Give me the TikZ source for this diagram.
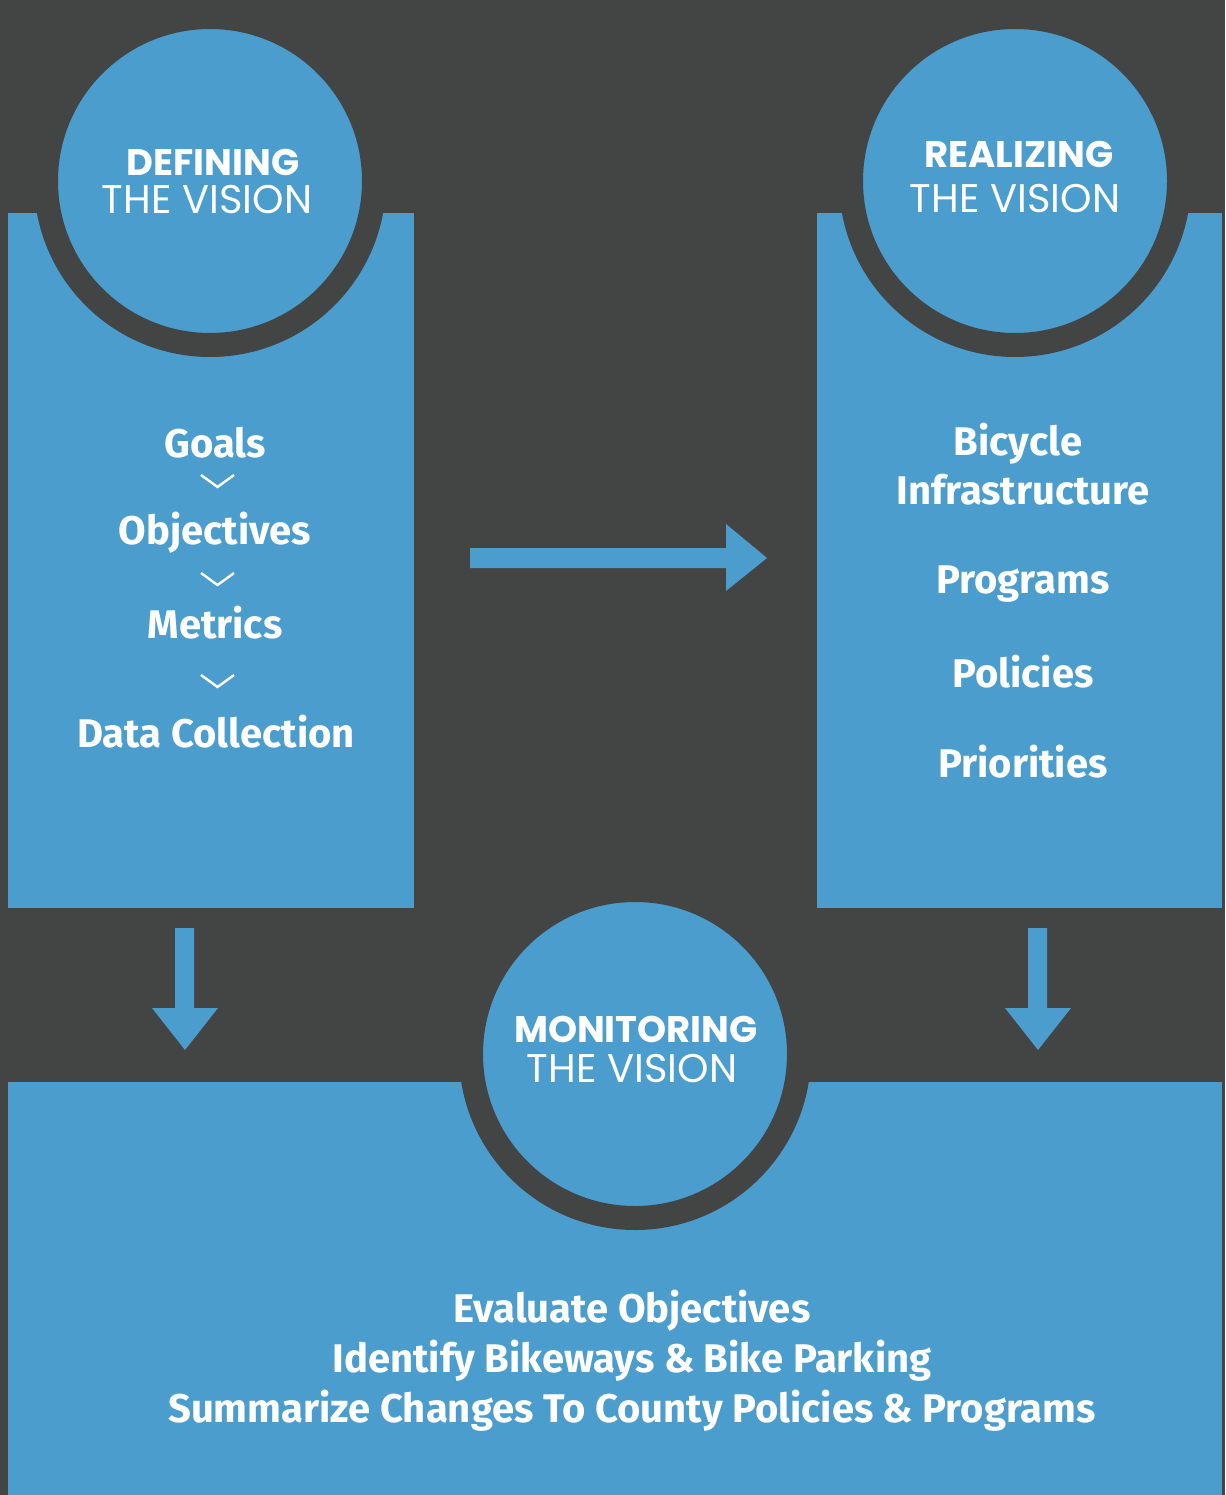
\documentclass[tikz,border=0pt]{standalone}
\usepackage{fontspec}
\setmainfont{Fira Sans}
\newfontfamily\headfont{Poppins}
\usetikzlibrary{positioning}
\definecolor{slate}{RGB}{67,68,68}
\definecolor{skyblue}{RGB}{74,157,204}
\tikzset{
  panel/.style={fill=skyblue},
  ring/.style={circle, fill=skyblue, draw=slate, line width=24pt, minimum size=328pt, inner sep=0pt},
  headbold/.style={text=white, anchor=base, inner sep=0pt, font=\headfont\bfseries\fontsize{37}{44}\selectfont},
  headthin/.style={text=white, anchor=base, inner sep=0pt, font=\headfont\fontsize{40}{48}\selectfont},
  item/.style={text=white, anchor=base, inner sep=0pt, font=\bfseries\fontsize{40}{48}\selectfont},
  chevron/.style={white, line width=2.4pt},
  blockarrow/.style={fill=skyblue}
}
\begin{document}
\begin{tikzpicture}[x=1pt, y=-1pt]

  \fill[slate] (0,0) rectangle (1225,1495);
  \useasboundingbox (0,0) rectangle (1225,1495);

  \fill[panel] (8,213) rectangle (414,908);
  \fill[panel] (817,213) rectangle (1222,908);
  \fill[panel] (8,1082) rectangle (1222,1495);

  \node[ring] (define) at (210,181) {};
  \node[ring] (realize) at (1015,181) {};
  \node[ring] (monitor) at (635,1054) {};

  \node[headbold] (defineA) at (213,176) {DEFINING};
  \node[headthin] (defineB) at (207,214) {THE VISION};
  \node[headbold] (realizeA) at (1019,168) {REALIZING};
  \node[headthin] (realizeB) at (1015,213) {THE VISION};
  \node[headbold] (monitorA) at (636,1042) {MONITORING};
  \node[headthin] (monitorB) at (632,1082) {THE VISION};

  \node[item] (goals) at (215,457) {Goals};
  \node[item] (objectives) at (215,544) {Objectives};
  \node[item] (metrics) at (215,638) {Metrics};
  \node[item] (data) at (216,747) {Data Collection};

  \draw[chevron] (201,475) -- (217.5,487) -- (234,475);
  \draw[chevron] (201,573) -- (217.5,585) -- (234,573);
  \draw[chevron] (201,675) -- (217.5,687) -- (234,675);

  \node[item] (bicycle) at (1018,455) {Bicycle};
  \node[item] (infra) at (1023,504) {Infrastructure};
  \node[item] (programs) at (1023,593) {Programs};
  \node[item] (policies) at (1023,687) {Policies};
  \node[item] (priorities) at (1023,777) {Priorities};

  \node[item] (evaluate) at (632,1322) {Evaluate Objectives};
  \node[item] (identify) at (632,1372) {Identify Bikeways \& Bike Parking};
  \node[item] (summarize) at (632,1422) {Summarize Changes To County Policies \& Programs};

  \fill[blockarrow] (470,548) -- (726,548) -- (726,524) -- (767,558) -- (726,591) -- (726,568) -- (470,568) -- cycle;
  \fill[blockarrow] (175,928) -- (194,928) -- (194,1008) -- (218,1008) -- (185,1050) -- (152,1008) -- (175,1008) -- cycle;
  \fill[blockarrow] (1028,928) -- (1047,928) -- (1047,1008) -- (1071,1008) -- (1038,1050) -- (1005,1008) -- (1028,1008) -- cycle;

\end{tikzpicture}
\end{document}
